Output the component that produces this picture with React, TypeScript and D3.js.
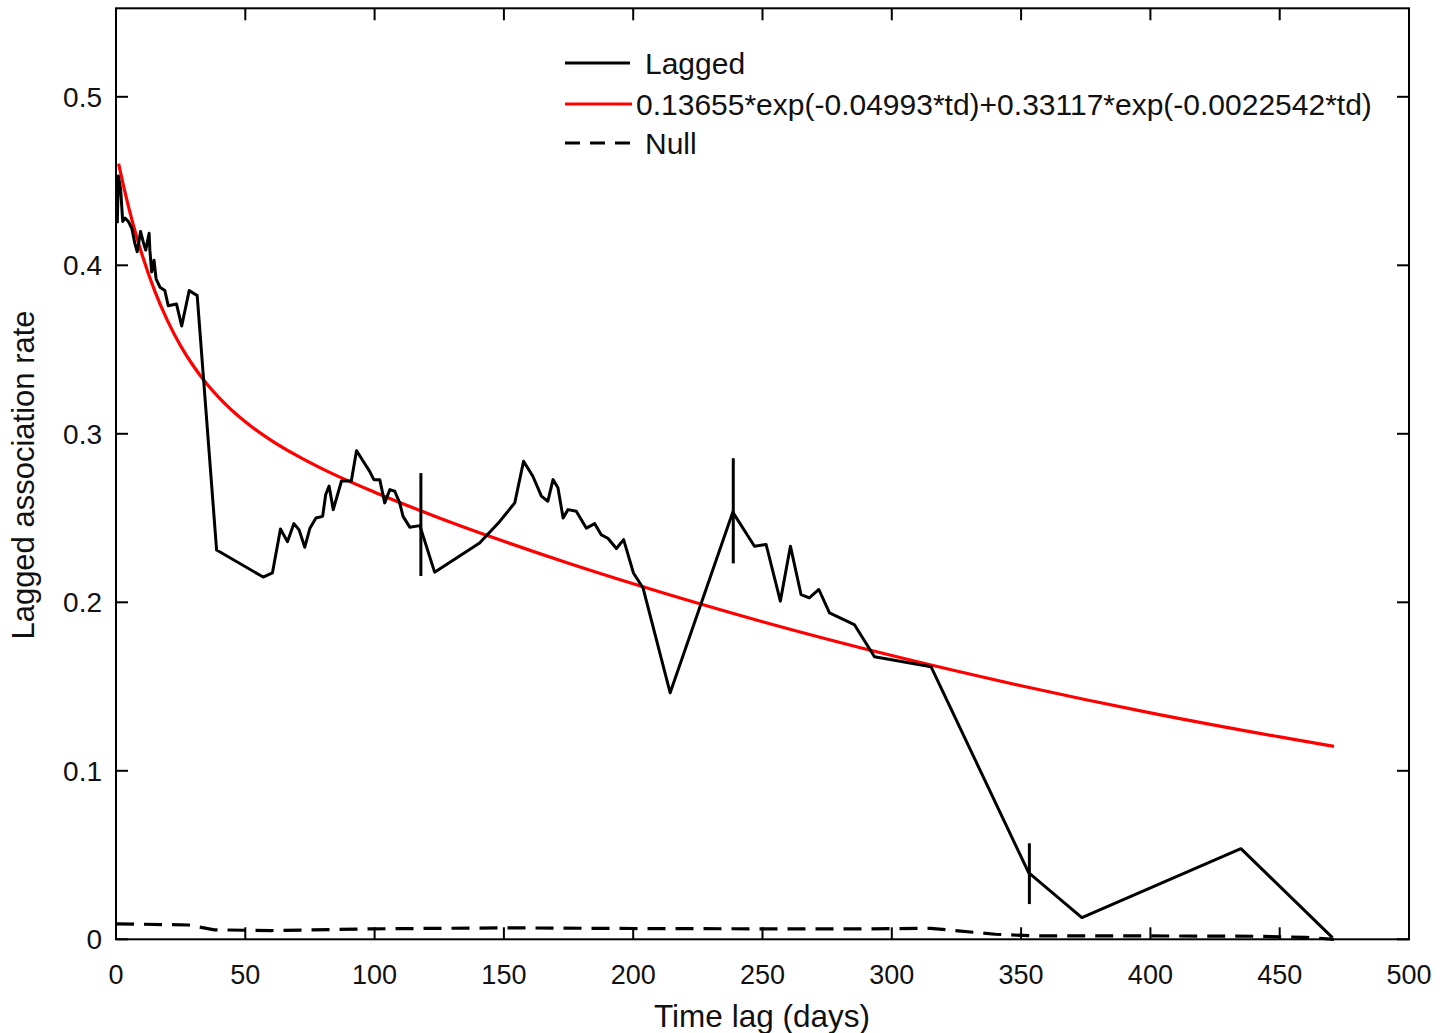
import React from "react";
import * as d3 from "d3";

// ---- Data ----
const laggedDays = [0.5, 0.9, 1.8, 2.6, 3.5, 4.8, 6.1, 7.3, 8.2, 9.5, 10.5, 11.5, 12.8, 13.1, 13.8, 14.7, 15.5, 17, 18.9, 20.2, 23.4, 25.4, 28.3, 31.4, 38.9, 56.9, 60.5, 63.6, 66.3, 68.8, 70.8, 73, 75, 77.3, 79.9, 81.1, 82.4, 84, 87.2, 91, 93, 95.6, 98.1, 99.7, 102, 103.9, 105.9, 107.8, 109.7, 111, 113.6, 117.5, 123.2, 140.6, 148.4, 154.2, 157.6, 161.2, 164.5, 167, 169, 170.9, 172.9, 174.8, 178, 181.9, 185.1, 187.7, 190.2, 193.5, 196.3, 200.1, 203.8, 214.3, 238.5, 246.9, 251.4, 256.9, 260.8, 264.9, 268.1, 271.8, 275.9, 285.5, 293.3, 315.2, 352.9, 373.5, 435, 470.4];
const laggedValues = [0.425, 0.453, 0.445, 0.426, 0.428, 0.426, 0.422, 0.413, 0.408, 0.42, 0.414, 0.409, 0.419, 0.409, 0.396, 0.403, 0.392, 0.387, 0.385, 0.376, 0.377, 0.364, 0.385, 0.382, 0.231, 0.215, 0.2175, 0.2435, 0.236, 0.2467, 0.243, 0.2327, 0.244, 0.25, 0.251, 0.264, 0.269, 0.255, 0.272, 0.272, 0.29, 0.2837, 0.2777, 0.2728, 0.2728, 0.259, 0.2669, 0.2659, 0.259, 0.251, 0.2446, 0.2455, 0.2179, 0.2352, 0.248, 0.259, 0.2837, 0.2748, 0.263, 0.26, 0.2728, 0.268, 0.25, 0.255, 0.254, 0.244, 0.2467, 0.24, 0.238, 0.2319, 0.2372, 0.2174, 0.2085, 0.1463, 0.2535, 0.2333, 0.2343, 0.2007, 0.2333, 0.2046, 0.2026, 0.2076, 0.1937, 0.1868, 0.1677, 0.1617, 0.0396, 0.0129, 0.0538, 0.001];

const fitDays = [1, 3, 5, 8, 10, 15, 20, 25, 30, 35, 40, 50, 60, 70, 80, 100, 125, 150, 175, 200, 250, 300, 350, 400, 450, 471];
const fitValues = [0.4603, 0.4465, 0.4338, 0.4168, 0.4067, 0.3847, 0.3669, 0.3522, 0.3401, 0.3298, 0.3212, 0.3071, 0.2961, 0.287, 0.279, 0.2653, 0.2501, 0.2362, 0.2232, 0.211, 0.1885, 0.1684, 0.1505, 0.1344, 0.1201, 0.1145];

const nullDays = [0, 28, 38, 60, 100, 150, 200, 250, 290, 315, 340, 355, 400, 440, 460, 471];
const nullValues = [0.0092, 0.0085, 0.0056, 0.0052, 0.0062, 0.0068, 0.0064, 0.0062, 0.0062, 0.0065, 0.003, 0.002, 0.002, 0.0018, 0.0012, 0.0];

const errDays = [117.9, 238.7, 353.2];
const errLow = [0.2156, 0.2231, 0.0209];
const errHigh = [0.2767, 0.2855, 0.057];

const xTicks = [0, 50, 100, 150, 200, 250, 300, 350, 400, 450, 500];
const yTicks = [0, 0.1, 0.2, 0.3, 0.4, 0.5];
const yTickLabels = ["0", "0.1", "0.2", "0.3", "0.4", "0.5"];

const legendLabels = ["Lagged", "0.13655*exp(-0.04993*td)+0.33117*exp(-0.0022542*td)", "Null"];
const xTitle = "Time lag (days)";
const yTitle = "Lagged association rate";

// ---- Layout ----
const W = 1451;
const H = 1033;
const L = 116, R = 1409, T = 8.3, B = 939.3;
const FONT = "'Liberation Sans', Arial, Helvetica, sans-serif";

export default function App() {
  const x = d3.scaleLinear().domain([0, 500]).range([L, R]);
  const y = d3.scaleLinear().domain([0, 0.5]).range([B, B - 842.5]);

  const lineGen = d3.line<[number, number]>().x(d => x(d[0])).y(d => y(d[1]));
  const smoothGen = d3.line<[number, number]>().x(d => x(d[0])).y(d => y(d[1])).curve(d3.curveMonotoneX);

  const lagged = laggedDays.map((d, i) => [d, laggedValues[i]] as [number, number]);
  const fit = fitDays.map((d, i) => [d, fitValues[i]] as [number, number]);
  const nul = nullDays.map((d, i) => [d, nullValues[i]] as [number, number]);

  const tickLen = 12;
  const legendY = [63, 104, 143];

  return (
    <svg width={W} height={H} style={{ position: "absolute", left: 0, top: 0, background: "#fff" }} fontFamily={FONT}>
      <rect x={0} y={0} width={W} height={H} fill="#fff" />
      {/* null dashed */}
      <path d={lineGen(nul) || ""} fill="none" stroke="#000" strokeWidth={3.2} strokeDasharray="18,10" />
      {/* fit */}
      <path d={smoothGen(fit) || ""} fill="none" stroke="#ff0000" strokeWidth={3.2} />
      {/* lagged */}
      <path d={lineGen(lagged) || ""} fill="none" stroke="#000" strokeWidth={3} strokeLinejoin="round" />
      {/* error bars */}
      {errDays.map((d, i) => (
        <line key={i} x1={x(d)} x2={x(d)} y1={y(errLow[i])} y2={y(errHigh[i])} stroke="#000" strokeWidth={3} />
      ))}
      {/* frame */}
      <rect x={L} y={T} width={R - L} height={B - T} fill="none" stroke="#000" strokeWidth={2} />
      {/* x ticks */}
      {xTicks.map(t => (
        <g key={"x" + t}>
          <line x1={x(t)} x2={x(t)} y1={B} y2={B - tickLen} stroke="#000" strokeWidth={2} />
          <line x1={x(t)} x2={x(t)} y1={T} y2={T + tickLen} stroke="#000" strokeWidth={2} />
          <text x={x(t)} y={984} textAnchor="middle" fontSize={27} fill="#111">{t}</text>
        </g>
      ))}
      {/* y ticks */}
      {yTicks.map((t, i) => (
        <g key={"y" + t}>
          <line x1={L} x2={L + tickLen} y1={y(t)} y2={y(t)} stroke="#000" strokeWidth={2} />
          <line x1={R} x2={R - tickLen} y1={y(t)} y2={y(t)} stroke="#000" strokeWidth={2} />
          <text x={102} y={y(t) + 10} textAnchor="end" fontSize={28} fill="#111">{yTickLabels[i]}</text>
        </g>
      ))}
      {/* axis titles */}
      <text x={762} y={1027} textAnchor="middle" fontSize={31.5} fill="#111">{xTitle}</text>
      <text transform={`translate(34,475) rotate(-90)`} textAnchor="middle" fontSize={31} fill="#111">{yTitle}</text>
      {/* legend */}
      <line x1={565} x2={630} y1={legendY[0]} y2={legendY[0]} stroke="#000" strokeWidth={3} />
      <text x={645} y={legendY[0] + 11} fontSize={30} fill="#111">{legendLabels[0]}</text>
      <line x1={565} x2={632} y1={legendY[1]} y2={legendY[1]} stroke="#ff0000" strokeWidth={3.2} />
      <text x={636} y={legendY[1] + 11} fontSize={30} fill="#111">{legendLabels[1]}</text>
      <line x1={565} x2={630} y1={legendY[2]} y2={legendY[2]} stroke="#000" strokeWidth={3} strokeDasharray="15,10" />
      <text x={645} y={legendY[2] + 11} fontSize={30} fill="#111">{legendLabels[2]}</text>
    </svg>
  );
}
